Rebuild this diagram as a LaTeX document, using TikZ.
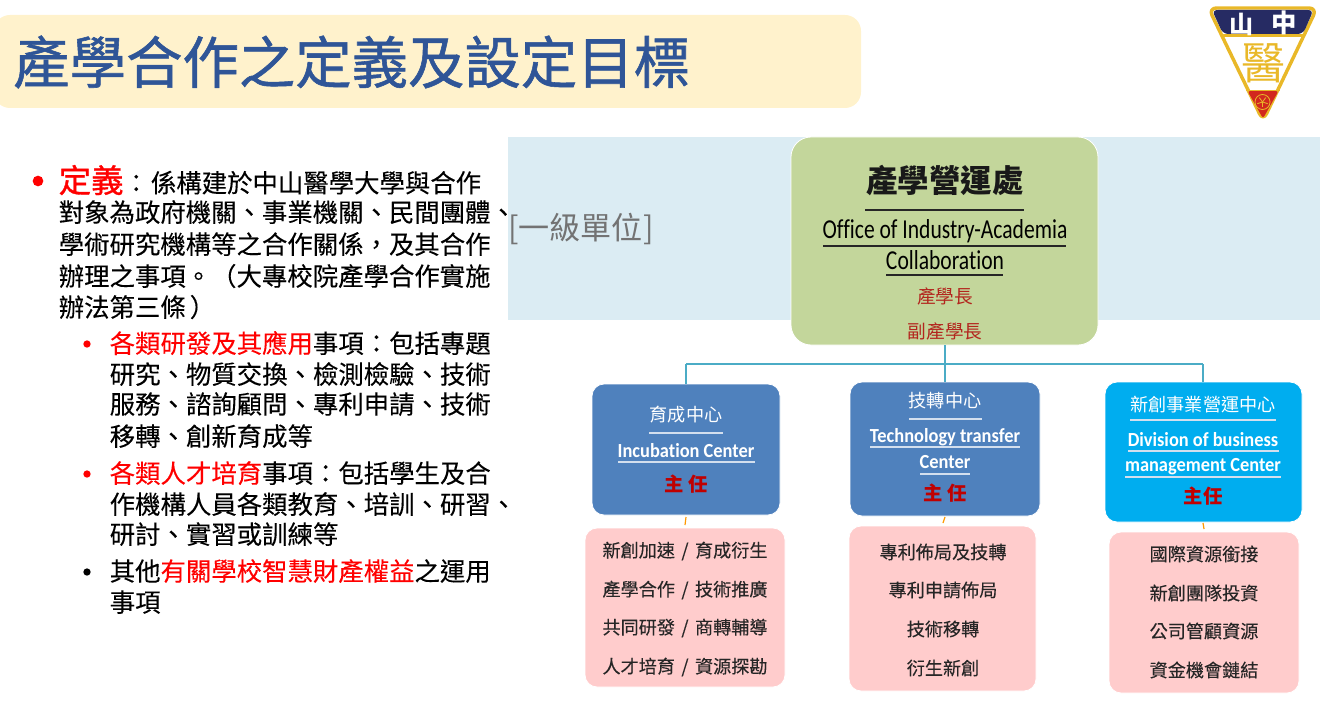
\documentclass[tikz,border=0pt]{standalone}
\usepackage{fontspec}
\setmainfont{Noto Sans CJK TC}
\newfontfamily\enfont[FakeStretch=0.79,Ligatures=NoCommon]{Carlito}
\newfontfamily\enwfont[FakeStretch=0.92,Ligatures=NoCommon]{Carlito}
\newfontfamily\ttlfont[FakeBold=1.0]{Noto Sans CJK TC}
\newfontfamily\bdyfont[FakeBold=0.15]{Noto Sans CJK TC}
\newcommand{\fsz}[1]{\fontsize{#1}{#1}\selectfont}
\newcommand{\psep}{\hspace{1.8pt} / \hspace{1.8pt}}
\definecolor{titleblue}{HTML}{2F5597}
\definecolor{titlebg}{HTML}{FFF2CC}
\definecolor{bandbg}{HTML}{DBECF3}
\definecolor{greenbox}{HTML}{C3D69B}
\definecolor{bluebox}{HTML}{4F81BD}
\definecolor{cyanbox}{HTML}{00ADEF}
\definecolor{pinkbox}{HTML}{FFCCCC}
\definecolor{linkteal}{HTML}{4BACC6}
\definecolor{darkred}{HTML}{B3261E}
\definecolor{deepred}{HTML}{C00000}
\definecolor{logonavy}{HTML}{262B63}
\definecolor{logogold}{HTML}{E9B828}
\definecolor{logored}{HTML}{D2281E}
\tikzset{
  x=0.75pt,y=-0.75pt,
  bodyline/.style={anchor=west,inner sep=0pt,yshift=0.7pt,font=\bdyfont\fsz{19.05}},
  bulletdot/.style={circle,inner sep=0pt},
  boxshape/.style={rounded corners=9pt,draw=white,line width=0.6pt},
  connect/.style={draw=linkteal,line width=1.2pt},
  tick/.style={draw=orange!80!yellow,line width=0.9pt},
  rulelt/.style={draw=white!75!bluebox,line width=0.8pt},
  ruledk/.style={draw=black!85,line width=0.9pt},
  enblack/.style={inner sep=0pt,font=\enfont\fsz{20.5}},
  enwhite/.style={inner sep=0pt,text=white,font=\enwfont\bfseries\fsz{15}},
  zhwhite/.style={inner sep=0pt,text=white,font=\fsz{13.6}},
  zhpink/.style={inner sep=0pt,text=black!85,font=\bdyfont\fsz{13.6}},
  chief/.style={inner sep=0pt,text=deepred,font=\bfseries\fsz{14.5}},
}
\begin{document}
\begin{tikzpicture}
\useasboundingbox (0,0) rectangle (1341,706);
% title
\fill[titlebg,rounded corners=12pt] (-6,15) rectangle (861,108);
\node[anchor=west,inner sep=0pt,text=titleblue,font=\ttlfont\fsz{42.3}] (ttl) at (13,62) {產學合作之定義及設定目標};
% band
\fill[bandbg] (508,137) rectangle (1320,320);
\node[anchor=west,inner sep=0pt,text=black!55,font=\fsz{23.3}] (lvl) at (508,229) {[一級單位]};
% left text
\node[bulletdot,fill=red,minimum size=8pt] (b1) at (38,181) {};
\node[bodyline] (l1) at (58.5,181) {\textcolor{red}{\ttlfont\fsz{24.3}定義}：\hspace{1.5pt}係構建於中山醫學大學與合作};
\node[bodyline] (l2) at (58.5,213) {對象為政府機關、事業機關、民間團體、};
\node[bodyline] (l3) at (58.5,245) {學術研究機構等之合作關係，及其合作};
\node[bodyline] (l4) at (58.5,277) {辦理之事項。（大專校院產學合作實施};
\node[bodyline] (l5) at (58.5,308) {辦法第三條\hspace{3pt}）};
\node[bulletdot,fill=red,minimum size=5.5pt] (b2) at (87,344) {};
\node[bodyline] (l6) at (109.5,344) {\textcolor{red}{各類研發及其應用}事項：包括專題};
\node[bodyline] (l7) at (109.5,375) {研究、物質交換、檢測檢驗、技術};
\node[bodyline] (l8) at (109.5,405) {服務、諮詢顧問、專利申請、技術};
\node[bodyline] (l9) at (109.5,437) {移轉、創新育成等};
\node[bulletdot,fill=red,minimum size=5.5pt] (b3) at (87,474) {};
\node[bodyline] (l10) at (109.5,474) {\textcolor{red}{各類人才培育}事項：包括學生及合};
\node[bodyline] (l11) at (109.5,505) {作機構人員各類教育、培訓、研習、};
\node[bodyline] (l12) at (109.5,535) {研討、實習或訓練等};
\node[bulletdot,fill=black,minimum size=5.5pt] (b4) at (87,572) {};
\node[bodyline] (l13) at (109.5,572) {其他\textcolor{red}{有關學校智慧財產權益}之運用};
\node[bodyline] (l14) at (109.5,603) {事項};
% top box
\path[boxshape,fill=greenbox,rounded corners=15pt] (791,137) rectangle (1098,345);
\coordinate (topc) at (945,345);
\coordinate (trunk) at (945,364);
\coordinate (jl) at (686,364);
\coordinate (jr) at (1203,364);
\node[inner sep=0pt,text=black!90,font=\bfseries\fsz{23.6}] (t1) at (945,181) {產學營運處};
\draw[ruledk] (865,210) -- (1024,210);
\node[enblack] (t2) at (945,231) {Office of Industry-Academia};
\draw[ruledk] (823,246) -- (1066,246);
\node[enblack] (t3) at (945,260) {Collaboration};
\draw[ruledk] (886,275) -- (1003,275);
\node[inner sep=0pt,text=darkred,font=\fsz{14}] (t4) at (945,296) {產學長};
\node[inner sep=0pt,text=darkred,font=\fsz{14}] (t5) at (945,331) {副產學長};
% centre boxes
\path[boxshape,fill=bluebox] (592,384) rectangle (780,515);
\path[boxshape,fill=bluebox] (850,382) rectangle (1040,516);
\path[boxshape,fill=cyanbox] (1105,382) rectangle (1302,522);
\coordinate (c1) at (686,384);
\coordinate (c2) at (945,382);
\coordinate (c3) at (1203,382);
\draw[connect] (jl) -- (jr);
\draw[connect] (topc) -- (c2);
\draw[connect] (jl) -- (c1);
\draw[connect] (jr) -- (c3);
% box 1
\node[zhwhite] (a1) at (686,415) {育成中心};
\draw[rulelt] (649,433) -- (723,433);
\node[enwhite] (a2) at (686,451) {Incubation Center};
\draw[rulelt] (618,462) -- (755,462);
\node[chief] (a3) at (686,484) {主 任};
% box 2
\node[zhwhite] (b21) at (945,401) {技轉中心};
\draw[rulelt] (909,419) -- (982,419);
\node[enwhite] (b22) at (945,437) {Technology transfer};
\draw[rulelt] (870,447) -- (1020,447);
\node[enwhite] (b23) at (945,462) {Center};
\draw[rulelt] (920,474) -- (970,474);
\node[chief] (b24) at (945,493) {主 任};
% box 3
\node[zhwhite] (c31) at (1203,405) {新創事業營運中心};
\draw[rulelt] (1130,420) -- (1276,420);
\node[enwhite] (c32) at (1203,440) {Division of business};
\draw[rulelt] (1128,451) -- (1279,451);
\node[enwhite] (c33) at (1203,467) {management Center};
\draw[rulelt] (1125,477) -- (1281,477);
\node[chief] (c34) at (1203,496) {主任};
% pink boxes
\path[boxshape,fill=pinkbox] (585,528) rectangle (785,687);
\path[boxshape,fill=pinkbox] (849,526) rectangle (1036,691);
\path[boxshape,fill=pinkbox] (1109,532) rectangle (1299,693);
\coordinate (d1a) at (686,517); \coordinate (d1b) at (685,525);
\coordinate (d2a) at (945,517); \coordinate (d2b) at (943,523);
\coordinate (d3a) at (1203,523); \coordinate (d3b) at (1204,529);
\draw[tick] (d1a) -- (d1b);
\draw[tick] (d2a) -- (d2b);
\draw[tick] (d3a) -- (d3b);
\node[zhpink] (p11) at (685,551) {新創加速\psep 育成衍生};
\node[zhpink] (p12) at (685,590) {產學合作\psep 技術推廣};
\node[zhpink] (p13) at (685,628) {共同研發\psep 商轉輔導};
\node[zhpink] (p14) at (685,667) {人才培育\psep 資源探勘};
\node[zhpink] (p21) at (943,552) {專利佈局及技轉};
\node[zhpink] (p22) at (943,590) {專利申請佈局};
\node[zhpink] (p23) at (943,629) {技術移轉};
\node[zhpink] (p24) at (943,668) {衍生新創};
\node[zhpink] (p31) at (1204,554) {國際資源銜接};
\node[zhpink] (p32) at (1204,593) {新創團隊投資};
\node[zhpink] (p33) at (1204,631) {公司管顧資源};
\node[zhpink] (p34) at (1204,670) {資金機會鏈結};
% logo
\path[fill=white,draw=logogold,line width=2.6pt,line join=round,rounded corners=6pt] (1208.5,8) -- (1317,8) -- (1263,121) -- cycle;
\path[fill=logonavy,rounded corners=4pt] (1212,10) -- (1313.5,10) -- (1303,34) -- (1223,34) -- cycle;
\draw[logogold,line width=1.6pt] (1222,35.5) -- (1304,35.5);
\path[fill=logored,rounded corners=2pt] (1247.5,91) -- (1278.5,91) -- (1263,118.5) -- cycle;
\draw[logogold,line width=1.4pt] (1246,90.5) -- (1280,90.5);
\node[inner sep=0pt,text=white,font=\bfseries\fsz{18}] (lg1) at (1241,24) {山};
\node[inner sep=0pt,text=white,font=\bfseries\fsz{19}] (lg2) at (1284,23) {中};
\node[inner sep=0pt,text=logogold,font=\fsz{33}] (lg3) at (1263,63) {醫};
\draw[logogold,line width=0.6pt] (1262.5,102) circle[radius=7.5];
\foreach \a in {90,162,234,306,18}
  \draw[logogold,line width=0.6pt] (1262.5,102) -- +(\a:5.5);
\end{tikzpicture}
\end{document}
